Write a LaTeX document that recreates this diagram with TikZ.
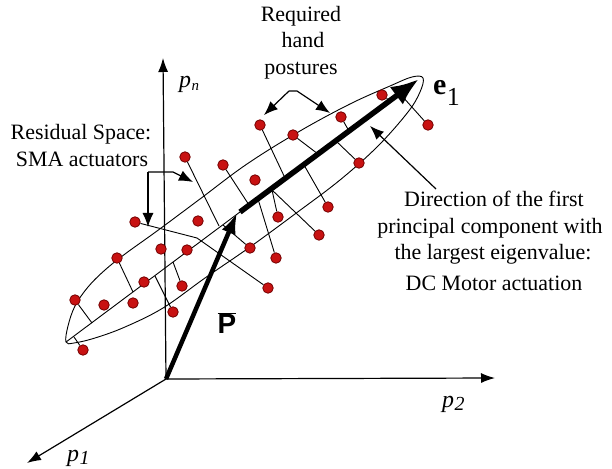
\documentclass[tikz,border=0pt]{standalone}
\usepackage{fontspec}
\setmainfont{Liberation Serif}
\newfontfamily\sansfont{Liberation Sans}
\usetikzlibrary{arrows.meta}
\definecolor{dotred}{RGB}{200,18,18}
\definecolor{dotedge}{RGB}{115,0,0}
\begin{document}
\begin{tikzpicture}[x=1bp,y=-1bp,font=\fontsize{22}{26}\selectfont]
\tikzset{
  axisline/.style={line width=1.2bp,-{Latex[length=14bp,width=10bp]}},
  resline/.style={line width=0.9bp},
  ellipseline/.style={line width=0.9bp},
  annot/.style={line width=1.2bp,-{Latex[length=14bp,width=11bp]}},
  bigarrow/.style={line width=5.5bp,-{Latex[length=28bp,width=22bp]}},
  meanarrow/.style={line width=4.5bp,-{Latex[length=21bp,width=15bp]}},
  datadot/.style={circle,fill=dotred,draw=dotedge,line width=0.8bp,inner sep=0pt,minimum size=10.5bp},
  lbl/.style={inner sep=0pt,anchor=base},
}
\useasboundingbox (0,0) rectangle (612,469);

% ellipse of the data cloud
\draw[ellipseline] plot[smooth cycle,tension=0.6] coordinates {
  (66,342) (68,326) (75,306) (88,287) (105,270) (125,254) (157,231) (200,199)
  (247,164) (300,131) (350,104) (390,86) (412,77) (423,78) (420,92) (408,112)
  (378,146) (340,180) (295,214) (250,247) (205,278) (163,308) (125,327) (95,338) (74,343)};

% axes
\coordinate (O) at (166,379);
\coordinate (pnTip) at (163,58);
\coordinate (p2Tip) at (495,378);
\coordinate (p1Tip) at (27,463);
\draw[axisline] (O) -- (pnTip);
\draw[axisline] (O) -- (p2Tip);
\draw[axisline] (O) -- (p1Tip);

% major axis and principal direction
\coordinate (tipL) at (66,342);
\coordinate (e1s) at (240,212);
\coordinate (e1t) at (419,79);
\draw[resline] (tipL) -- (e1s);

% data points
\foreach \n/\x/\y in {1/260/125,2/293/135,3/185/157,4/223/165,5/255/180,6/135/222,
  7/198/221,8/278/217,9/382/95,10/341/117,11/428/125,12/359/163,13/328/207,
  14/319/235,15/117/258,16/161/249,17/187/250,18/144/282,19/182/286,20/75/300,
  21/104/305,22/133/303,23/173/312,24/83/350,25/250/248,26/276/258,27/268/288}
  \node[datadot] (d\n) at (\x,\y) {};

% feet of the residual lines
\foreach \n/\x/\y in {1/285/178,2/318/154,3/219/226,4/249/205,6/197/238,8/272/190,
  9/390/101,10/349/131,11/402/96,12/336/141,13/304/165,14/272/190,15/133/292,
  19/173/262,20/92/323,23/155/276,24/74/337,25/223/225,26/258/199,27/197/238}
  \coordinate (f\n) at (\x,\y);
\foreach \n in {1,2,3,4,6,8,9,10,11,12,13,14,15,19,20,23,24,25,26,27}
  \draw[resline] (d\n) -- (f\n);

\draw[bigarrow] (e1s) -- (e1t);
\coordinate (pbarTip) at (237,213);
\draw[meanarrow] (O) -- (pbarTip);

% annotation arrows
\coordinate (smaC) at (148,172);
\coordinate (smaH) at (173,172);
\coordinate (smaT1) at (193,182);
\coordinate (smaT2) at (148,227);
\draw[annot] (smaC) -- (smaH) -- (smaT1);
\draw[annot] (smaC) -- (smaT2);

\coordinate (rqA) at (289,91);
\coordinate (rqB) at (297,91);
\coordinate (rqL) at (264,115);
\coordinate (rqR) at (330,113);
\draw[annot] (rqA) -- (rqL);
\draw[annot] (rqA) -- (rqB) -- (rqR);

\coordinate (dirS) at (436,189);
\coordinate (dirT) at (370,126);
\draw[annot] (dirS) -- (dirT);

% texts
\node[lbl] (t1) at (81,140) {Residual Space:};
\node[lbl] (t2) at (82,167) {SMA actuators};
\node[lbl] (t3) at (301,22) {Required};
\node[lbl] (t4) at (303,48) {hand};
\node[lbl] (t5) at (301,75) {postures};
\node[lbl] (t6) at (494,207) {Direction of the first};
\node[lbl] (t7) at (490,234) {principal component with};
\node[lbl] (t8) at (493,260) {the largest eigenvalue:};
\node[lbl] (t9) at (494,291) {DC Motor actuation};

% axis and vector labels
\node[lbl,anchor=base west] (lpn) at (179,88) {\fontsize{24}{24}\selectfont\itshape p\kern0.5bp\raisebox{-3bp}{\fontsize{15}{15}\selectfont n}};
\node[lbl,anchor=base west] (lp2) at (442,407) {\fontsize{24}{24}\selectfont\itshape p\kern0.5bp\raisebox{-3bp}{\fontsize{20}{20}\selectfont 2}};
\node[lbl,anchor=base west] (lp1) at (67,461) {\fontsize{24}{24}\selectfont\itshape p\kern0.5bp\raisebox{-3bp}{\fontsize{20}{20}\selectfont 1}};
\node[lbl,anchor=base west] (le1) at (433,95) {\fontsize{30}{30}\selectfont\bfseries e\kern0.5bp\raisebox{-11bp}{\fontsize{26}{26}\selectfont\mdseries 1}};
\node[inner sep=0pt] (lP) at (227,323) {$\overline{\mbox{\sansfont\bfseries\fontsize{28}{28}\selectfont P}}$};
\end{tikzpicture}
\end{document}
